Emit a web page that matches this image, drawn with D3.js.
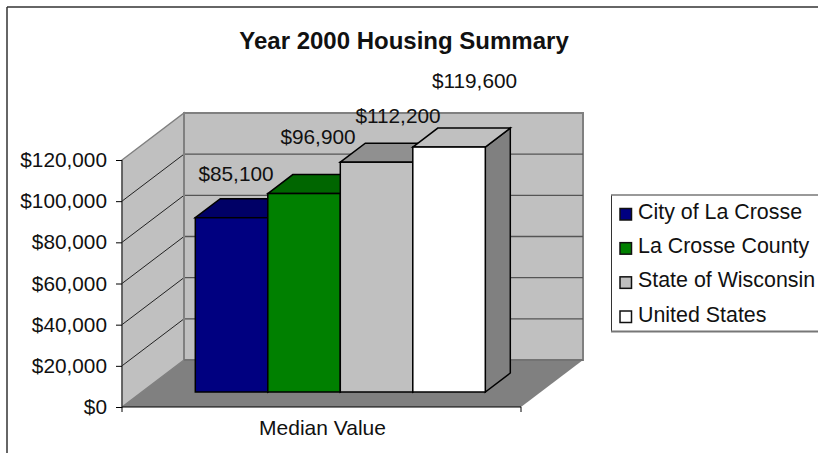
<!DOCTYPE html>
<html><head><meta charset="utf-8">
<script src="https://cdn.jsdelivr.net/npm/d3@7"></script>
<style>html,body{margin:0;padding:0;background:#fff;overflow:hidden}svg{display:block}text{font-family:"Liberation Sans",Arial,sans-serif;fill:#111}</style>
</head><body><svg id="c" width="818" height="453"></svg>
<script>
const chartTitle = "Year 2000 Housing Summary";
const category = "Median Value";
const seriesNames = ["City of La Crosse","La Crosse County","State of Wisconsin","United States"];
const seriesValues = [85100,96900,112200,119600];
const seriesColors = ["#000080","#008000","#c0c0c0","#ffffff"];
const topColors = ["#000066","#006600","#909090","#c0c0c0"];
const tickValues = [0,20000,40000,60000,80000,100000,120000];

const svg = d3.select("#c");
const fmt = d3.format("$,.0f");
const line = (g,a,b,c,w)=>g.append("line").attr("x1",a[0]).attr("y1",a[1]).attr("x2",b[0]).attr("y2",b[1]).attr("stroke",c).attr("stroke-width",w);
const poly = (g,pts,f,s,w)=>g.append("polygon").attr("points",pts.map(p=>p.join(",")).join(" ")).attr("fill",f).attr("stroke",s||"none").attr("stroke-width",w||0).attr("stroke-linejoin","miter");

// outer frame (open on the right and bottom: it runs past the picture)
line(svg,[7,7],[818,7],"#333",1.5);
line(svg,[7,7],[7,453],"#333",1.5);

svg.append("text").attr("x",404).attr("y",49).attr("text-anchor","middle").attr("font-size",24).attr("font-weight","bold").attr("fill","#000").text(chartTitle);

const y = d3.scaleLinear().domain([0,120000]).range([407,160]);
const frontX = [122,521], depth = [62,-47];
const g = svg.append("g");
const wallGrey="#c0c0c0", edge="#808080";
poly(g,[[frontX[0]+depth[0],y(120000)+depth[1]],[frontX[1]+depth[0],y(120000)+depth[1]],[frontX[1]+depth[0],y(0)+depth[1]],[frontX[0]+depth[0],y(0)+depth[1]]],wallGrey,edge,2);
poly(g,[[frontX[0],y(0)],[frontX[0],y(120000)],[frontX[0]+depth[0],y(120000)+depth[1]],[frontX[0]+depth[0],y(0)+depth[1]]],wallGrey,edge,1.5);
poly(g,[[frontX[0],y(0)],[frontX[1],y(0)],[frontX[1]+depth[0],y(0)+depth[1]],[frontX[0]+depth[0],y(0)+depth[1]]],"#808080");
tickValues.forEach(t=>{
  if(t>0 && t<120000){
    line(g,[frontX[0],y(t)],[frontX[0]+depth[0],y(t)+depth[1]],"#222",1);
    line(g,[frontX[0]+depth[0],y(t)+depth[1]],[frontX[1]+depth[0],y(t)+depth[1]],"#555",1.3);
  }
});
line(g,[frontX[0]+depth[0],y(120000)+depth[1]],[frontX[0]+depth[0],y(0)+depth[1]],edge,2);
line(g,[frontX[0]+depth[0],y(0)+depth[1]],[frontX[1]+depth[0],y(0)+depth[1]],"#666",1);
line(g,[frontX[0],y(0)],[frontX[0],y(120000)],"#333",1);
line(g,[frontX[0],y(0)],[frontX[1],y(0)],"#000",1.2);
line(g,[frontX[1],y(0)],[frontX[1],y(0)+5],"#000",1);
line(g,[frontX[0],y(0)],[frontX[0],y(0)+5],"#000",1);
const axis = d3.axisLeft(y).tickValues(tickValues).tickFormat(fmt).tickSize(6).tickPadding(9);
const ax = svg.append("g").attr("transform",`translate(${frontX[0]},0)`).call(axis);
ax.select(".domain").remove();
ax.selectAll("line").attr("stroke","#000");
ax.selectAll("text").attr("font-size",20.8).attr("font-family","Liberation Sans").attr("fill","#111");

// bars
const barOffset=[73.3,-15], barDepth=[25,-19];
const x = d3.scaleBand().domain(seriesNames).range([frontX[0]+barOffset[0],frontX[0]+barOffset[0]+290]);
const base = y(0)+barOffset[1];
const hFront = v=>base-(y(0)-y(v))*0.995;
seriesNames.forEach((n,i)=>{
  const v=seriesValues[i], l=x(n), r=l+x.bandwidth(), t=hFront(v);
  poly(g,[[r,t],[r+barDepth[0],t+barDepth[1]],[r+barDepth[0],base+barDepth[1]],[r,base]],"#808080","#000",1.5);
  poly(g,[[l,t],[l+barDepth[0],t+barDepth[1]],[r+barDepth[0],t+barDepth[1]],[r,t]],topColors[i],"#000",1.5);
  g.append("rect").attr("x",l).attr("y",t).attr("width",x.bandwidth()).attr("height",base-t).attr("fill",seriesColors[i]).attr("stroke","#000").attr("stroke-width",1.5);
});
// data labels
const labelX=[236,318,398,474.5], labelY=[181,144,123,88];
seriesNames.forEach((n,i)=>{
  svg.append("text").attr("x",labelX[i]).attr("y",labelY[i]).attr("text-anchor","middle").attr("font-size",20.8).text(fmt(seriesValues[i]));
});
svg.append("text").attr("x",322.5).attr("y",435).attr("text-anchor","middle").attr("font-size",21).text(category);

// legend
const lg = svg.append("g");
line(lg,[611.5,195],[611.5,332],"#333",1);
line(lg,[611,195],[818,195],"#777",1.6);
line(lg,[611,331.5],[818,331.5],"#777",2);
const ly = d3.scalePoint().domain(seriesNames).range([214,316.5]);
seriesNames.forEach((n,i)=>{
  lg.append("rect").attr("x",620).attr("y",ly(n)-5.5).attr("width",11.5).attr("height",11.5).attr("fill",seriesColors[i]).attr("stroke","#111").attr("stroke-width",1.5);
  lg.append("text").attr("x",638).attr("y",ly(n)+5).attr("font-size",21.4).text(n);
});
</script></body></html>
